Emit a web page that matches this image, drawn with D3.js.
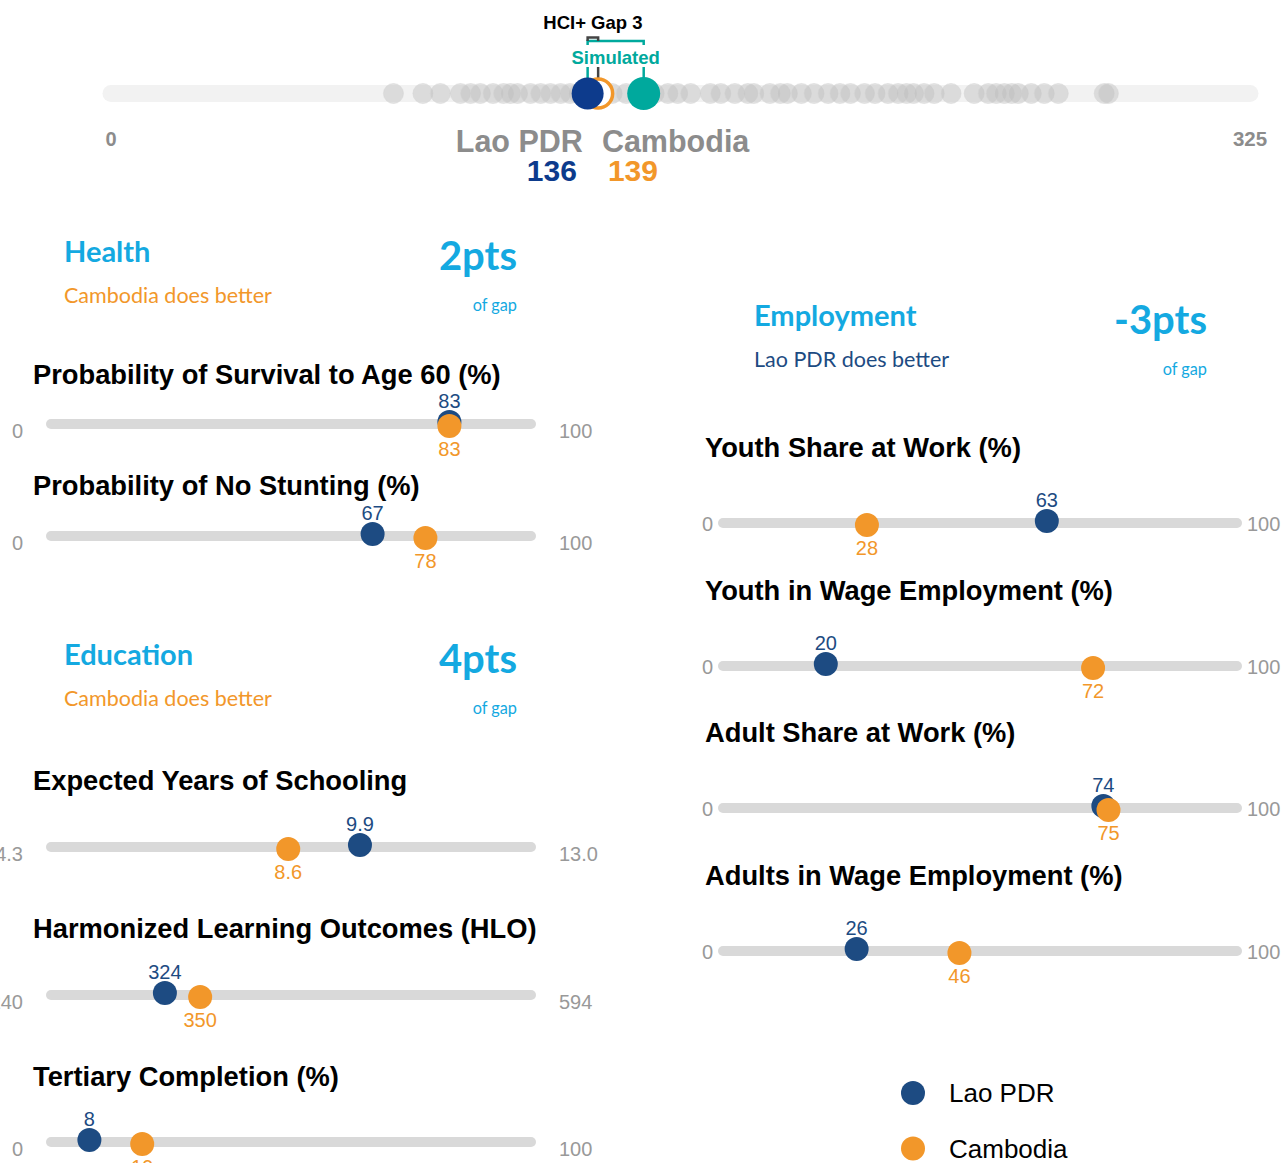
<!DOCTYPE html>
<html><head><meta charset="utf-8">
<script src="https://cdn.jsdelivr.net/npm/d3@7"></script>
<style>body{margin:0;background:#fff} svg{display:block}</style>
</head><body>
<svg id="chart" width="1282" height="1163"></svg>
<script>
// ---------- DATA ----------
const hciDomain = [0, 325];
const hciCountries = ["Lao PDR", "Cambodia"];
const hciScores = [136, 139];
const hciSimulated = 152;
const hciGapLabel = "HCI+ Gap 3";
const simulatedLabel = "Simulated";
const otherHci = [80.6, 89, 94, 99.7, 102.6, 105.4, 109, 112, 114, 116, 119.7, 122.6, 125.4, 128.3, 131, 133.4,
  143, 147, 155, 158.9, 161.7, 165.4, 171, 174, 178, 181.7, 183.4, 188, 191, 193, 197, 200.6, 204.6,
  208, 211, 215, 218, 221.7, 224.6, 227, 229, 232, 234.9, 239.7, 246.3, 250.3, 252.6, 254.9, 257,
  258.9, 262.6, 266.3, 270.3, 283.4, 284.6];

const sectionNames = ["Health", "Education", "Employment"];
const sectionGaps = ["2pts", "4pts", "-3pts"];
const sectionBetter = ["Cambodia does better", "Cambodia does better", "Lao PDR does better"];
const sectionBetterCountry = ["Cambodia", "Cambodia", "Lao PDR"];

const healthIndicators = ["Probability of Survival to Age 60 (%)", "Probability of No Stunting (%)"];
const healthLao = [83, 67];
const healthCambodia = [83, 78];
const healthMin = [0, 0];
const healthMax = [100, 100];
const healthMinLabels = ["0", "0"];
const healthMaxLabels = ["100", "100"];

const educationIndicators = ["Expected Years of Schooling", "Harmonized Learning Outcomes (HLO)", "Tertiary Completion (%)"];
const educationLao = [9.9, 324, 8];
const educationCambodia = [8.6, 350, 19];
const educationMin = [4.3, 240, 0];
const educationMax = [13.0, 594, 100];
const educationMinLabels = ["4.3", "240", "0"];
const educationMaxLabels = ["13.0", "594", "100"];

const employmentIndicators = ["Youth Share at Work (%)", "Youth in Wage Employment (%)", "Adult Share at Work (%)", "Adults in Wage Employment (%)"];
const employmentLao = [63, 20, 74, 26];
const employmentCambodia = [28, 72, 75, 46];
const employmentMin = [0, 0, 0, 0];
const employmentMax = [100, 100, 100, 100];
const employmentMinLabels = ["0", "0", "0", "0"];
const employmentMaxLabels = ["100", "100", "100", "100"];

const legendLabels = ["Lao PDR", "Cambodia"];

// ---------- STYLE ----------
const C = {
  laoTop: "#0d3b8c", lao: "#1d4b82", cam: "#f2972a", teal: "#00a99d",
  cyan: "#14a9e1", track: "#d9d9d9", topTrack: "#f2f2f2", grayText: "#8c8c8c", endText: "#999"
};
const SANS = "'Liberation Sans', Arial, sans-serif";
const HEAD = "Lato, 'Open Sans', sans-serif";

const svg = d3.select("#chart");

// ---------- TOP HCI STRIP ----------
const xTop = d3.scaleLinear().domain(hciDomain).range([111, 1250]);
const topG = svg.append("g");
const topY = 93.5;
topG.append("line").attr("x1", xTop(hciDomain[0])).attr("x2", xTop(hciDomain[1]))
  .attr("y1", topY).attr("y2", topY).attr("stroke", C.topTrack)
  .attr("stroke-width", 17).attr("stroke-linecap", "round");
topG.selectAll("circle.other").data(otherHci).join("circle").attr("class", "other")
  .attr("cx", d => xTop(d)).attr("cy", topY).attr("r", 10)
  .attr("fill", "#bdbdbd").attr("fill-opacity", 0.42)
  .attr("stroke", "#d4d4d4").attr("stroke-opacity", 0.5).attr("stroke-width", 1);

const xL = xTop(hciScores[0]), xC = xTop(hciScores[1]), xS = xTop(hciSimulated);
// connector lines
topG.append("line").attr("x1", xL).attr("x2", xL).attr("y1", 67).attr("y2", 80).attr("stroke", C.teal).attr("stroke-width", 2.5);
topG.append("line").attr("x1", xS).attr("x2", xS).attr("y1", 67).attr("y2", 80).attr("stroke", C.teal).attr("stroke-width", 2.5);
topG.append("line").attr("x1", xC).attr("x2", xC).attr("y1", 67).attr("y2", 78).attr("stroke", "#444").attr("stroke-width", 2.5);
// brackets
topG.append("path").attr("d", `M${xL},45V41H${xS}V45`).attr("fill", "none").attr("stroke", C.teal).attr("stroke-width", 2.5);
topG.append("path").attr("d", `M${xL},41V37.5H${xC}V41`).attr("fill", "none").attr("stroke", "#444").attr("stroke-width", 2.5);
topG.append("text").attr("x", (xL + xC) / 2).attr("y", 29).attr("text-anchor", "middle")
  .attr("font-family", SANS).attr("font-weight", "bold").attr("font-size", 18.5).attr("fill", "#000").text(hciGapLabel);
topG.append("text").attr("x", (xL + xS) / 2).attr("y", 63.5).attr("text-anchor", "middle")
  .attr("font-family", SANS).attr("font-weight", "bold").attr("font-size", 18.5).attr("fill", C.teal).text(simulatedLabel);

// Cambodia ring, Lao dot, simulated dot
topG.append("circle").attr("cx", xC).attr("cy", topY).attr("r", 14.5).attr("fill", "#fff").attr("stroke", C.cam).attr("stroke-width", 3.5);
topG.append("circle").attr("cx", xL).attr("cy", topY).attr("r", 16).attr("fill", C.laoTop);
topG.append("circle").attr("cx", xS).attr("cy", topY).attr("r", 16.5).attr("fill", C.teal);

// axis end labels
topG.append("text").attr("x", xTop(hciDomain[0])).attr("y", 146).attr("text-anchor", "middle")
  .attr("font-family", SANS).attr("font-weight", "bold").attr("font-size", 20).attr("fill", C.grayText).text(hciDomain[0]);
topG.append("text").attr("x", xTop(hciDomain[1])).attr("y", 146).attr("text-anchor", "middle")
  .attr("font-family", SANS).attr("font-weight", "bold").attr("font-size", 20.5).attr("fill", C.grayText).text(hciDomain[1]);
// country names & scores
const midX = (xL + xC) / 2;
topG.append("text").attr("x", midX - 10).attr("y", 152).attr("text-anchor", "end")
  .attr("font-family", SANS).attr("font-weight", "bold").attr("font-size", 30.5).attr("fill", C.grayText).text(hciCountries[0]);
topG.append("text").attr("x", midX + 9).attr("y", 152).attr("text-anchor", "start")
  .attr("font-family", SANS).attr("font-weight", "bold").attr("font-size", 30.5).attr("fill", C.grayText).text(hciCountries[1]);
topG.append("text").attr("x", midX - 16).attr("y", 181).attr("text-anchor", "end")
  .attr("font-family", SANS).attr("font-weight", "bold").attr("font-size", 30).attr("fill", C.laoTop).text(hciScores[0]);
topG.append("text").attr("x", midX + 15).attr("y", 181).attr("text-anchor", "start")
  .attr("font-family", SANS).attr("font-weight", "bold").attr("font-size", 30).attr("fill", C.cam).text(hciScores[1]);

// ---------- SECTIONS ----------
function drawHeader(i, x, xr, y) {
  const g = svg.append("g");
  g.append("text").attr("x", x).attr("y", y).attr("font-family", HEAD).attr("font-weight", "bold")
    .attr("font-size", 29).attr("fill", C.cyan).text(sectionNames[i]);
  g.append("text").attr("x", x).attr("y", y + 41).attr("font-family", HEAD)
    .attr("font-size", 21.5).attr("fill", sectionBetterCountry[i] === "Cambodia" ? C.cam : C.lao).text(sectionBetter[i]);
  g.append("text").attr("x", xr).attr("y", y + 8).attr("text-anchor", "end").attr("font-family", HEAD).attr("font-weight", "bold")
    .attr("font-size", 40).attr("fill", C.cyan).text(sectionGaps[i]);
  g.append("text").attr("x", xr).attr("y", y + 49).attr("text-anchor", "end").attr("font-family", HEAD)
    .attr("font-size", 16.3).attr("fill", C.cyan).text("of gap");
}

function drawIndicators(names, lao, cam, mins, maxs, minLabels, maxLabels, titleX, r0, r1, titleYs, trackYs, endGap, endDy) {
  names.forEach((name, i) => {
    const g = svg.append("g");
    const x = d3.scaleLinear().domain([mins[i], maxs[i]]).range([r0, r1]);
    const ty = trackYs[i];
    g.append("text").attr("x", titleX).attr("y", titleYs[i]).attr("font-family", SANS).attr("font-weight", "bold")
      .attr("font-size", 27.3).attr("fill", "#000").text(name);
    g.append("line").attr("x1", x(mins[i])).attr("x2", x(maxs[i])).attr("y1", ty).attr("y2", ty)
      .attr("stroke", C.track).attr("stroke-width", 10).attr("stroke-linecap", "round");
    g.append("text").attr("x", x(mins[i]) - endGap).attr("y", ty + endDy).attr("text-anchor", "end")
      .attr("font-family", SANS).attr("font-size", 20).attr("fill", C.endText).text(minLabels[i]);
    g.append("text").attr("x", x(maxs[i]) + endGap).attr("y", ty + endDy).attr("text-anchor", "start")
      .attr("font-family", SANS).attr("font-size", 20).attr("fill", C.endText).text(maxLabels[i]);
    // Lao
    g.append("circle").attr("cx", x(lao[i])).attr("cy", ty - 2).attr("r", 12).attr("fill", C.lao);
    g.append("text").attr("x", x(lao[i])).attr("y", ty - 16).attr("text-anchor", "middle")
      .attr("font-family", SANS).attr("font-size", 20).attr("fill", C.lao).text(lao[i]);
    // Cambodia
    g.append("circle").attr("cx", x(cam[i])).attr("cy", ty + 2).attr("r", 12).attr("fill", C.cam);
    g.append("text").attr("x", x(cam[i])).attr("y", ty + 32).attr("text-anchor", "middle")
      .attr("font-family", SANS).attr("font-size", 20).attr("fill", C.cam).text(cam[i]);
  });
}

drawHeader(0, 64, 517, 262);
drawIndicators(healthIndicators, healthLao, healthCambodia, healthMin, healthMax, healthMinLabels, healthMaxLabels,
  33, 51, 531, [384, 495], [424, 536], 28, 14);

drawHeader(1, 64, 517, 665);
drawIndicators(educationIndicators, educationLao, educationCambodia, educationMin, educationMax, educationMinLabels, educationMaxLabels,
  33, 51, 531, [790, 938, 1086], [847, 995, 1142], 28, 14);

drawHeader(2, 754, 1207, 326);
drawIndicators(employmentIndicators, employmentLao, employmentCambodia, employmentMin, employmentMax, employmentMinLabels, employmentMaxLabels,
  705, 723, 1237, [457, 600, 742, 885], [523, 666, 808, 951], 10, 8);

// ---------- LEGEND ----------
const legend = svg.append("g");
legendLabels.forEach((lab, i) => {
  const y = 1093 + i * 55.5;
  legend.append("circle").attr("cx", 913).attr("cy", y).attr("r", 12).attr("fill", i === 0 ? C.lao : C.cam);
  legend.append("text").attr("x", 949).attr("y", y + 9).attr("font-family", SANS).attr("font-size", 26)
    .attr("fill", "#000").text(lab);
});
</script>
</body></html>
